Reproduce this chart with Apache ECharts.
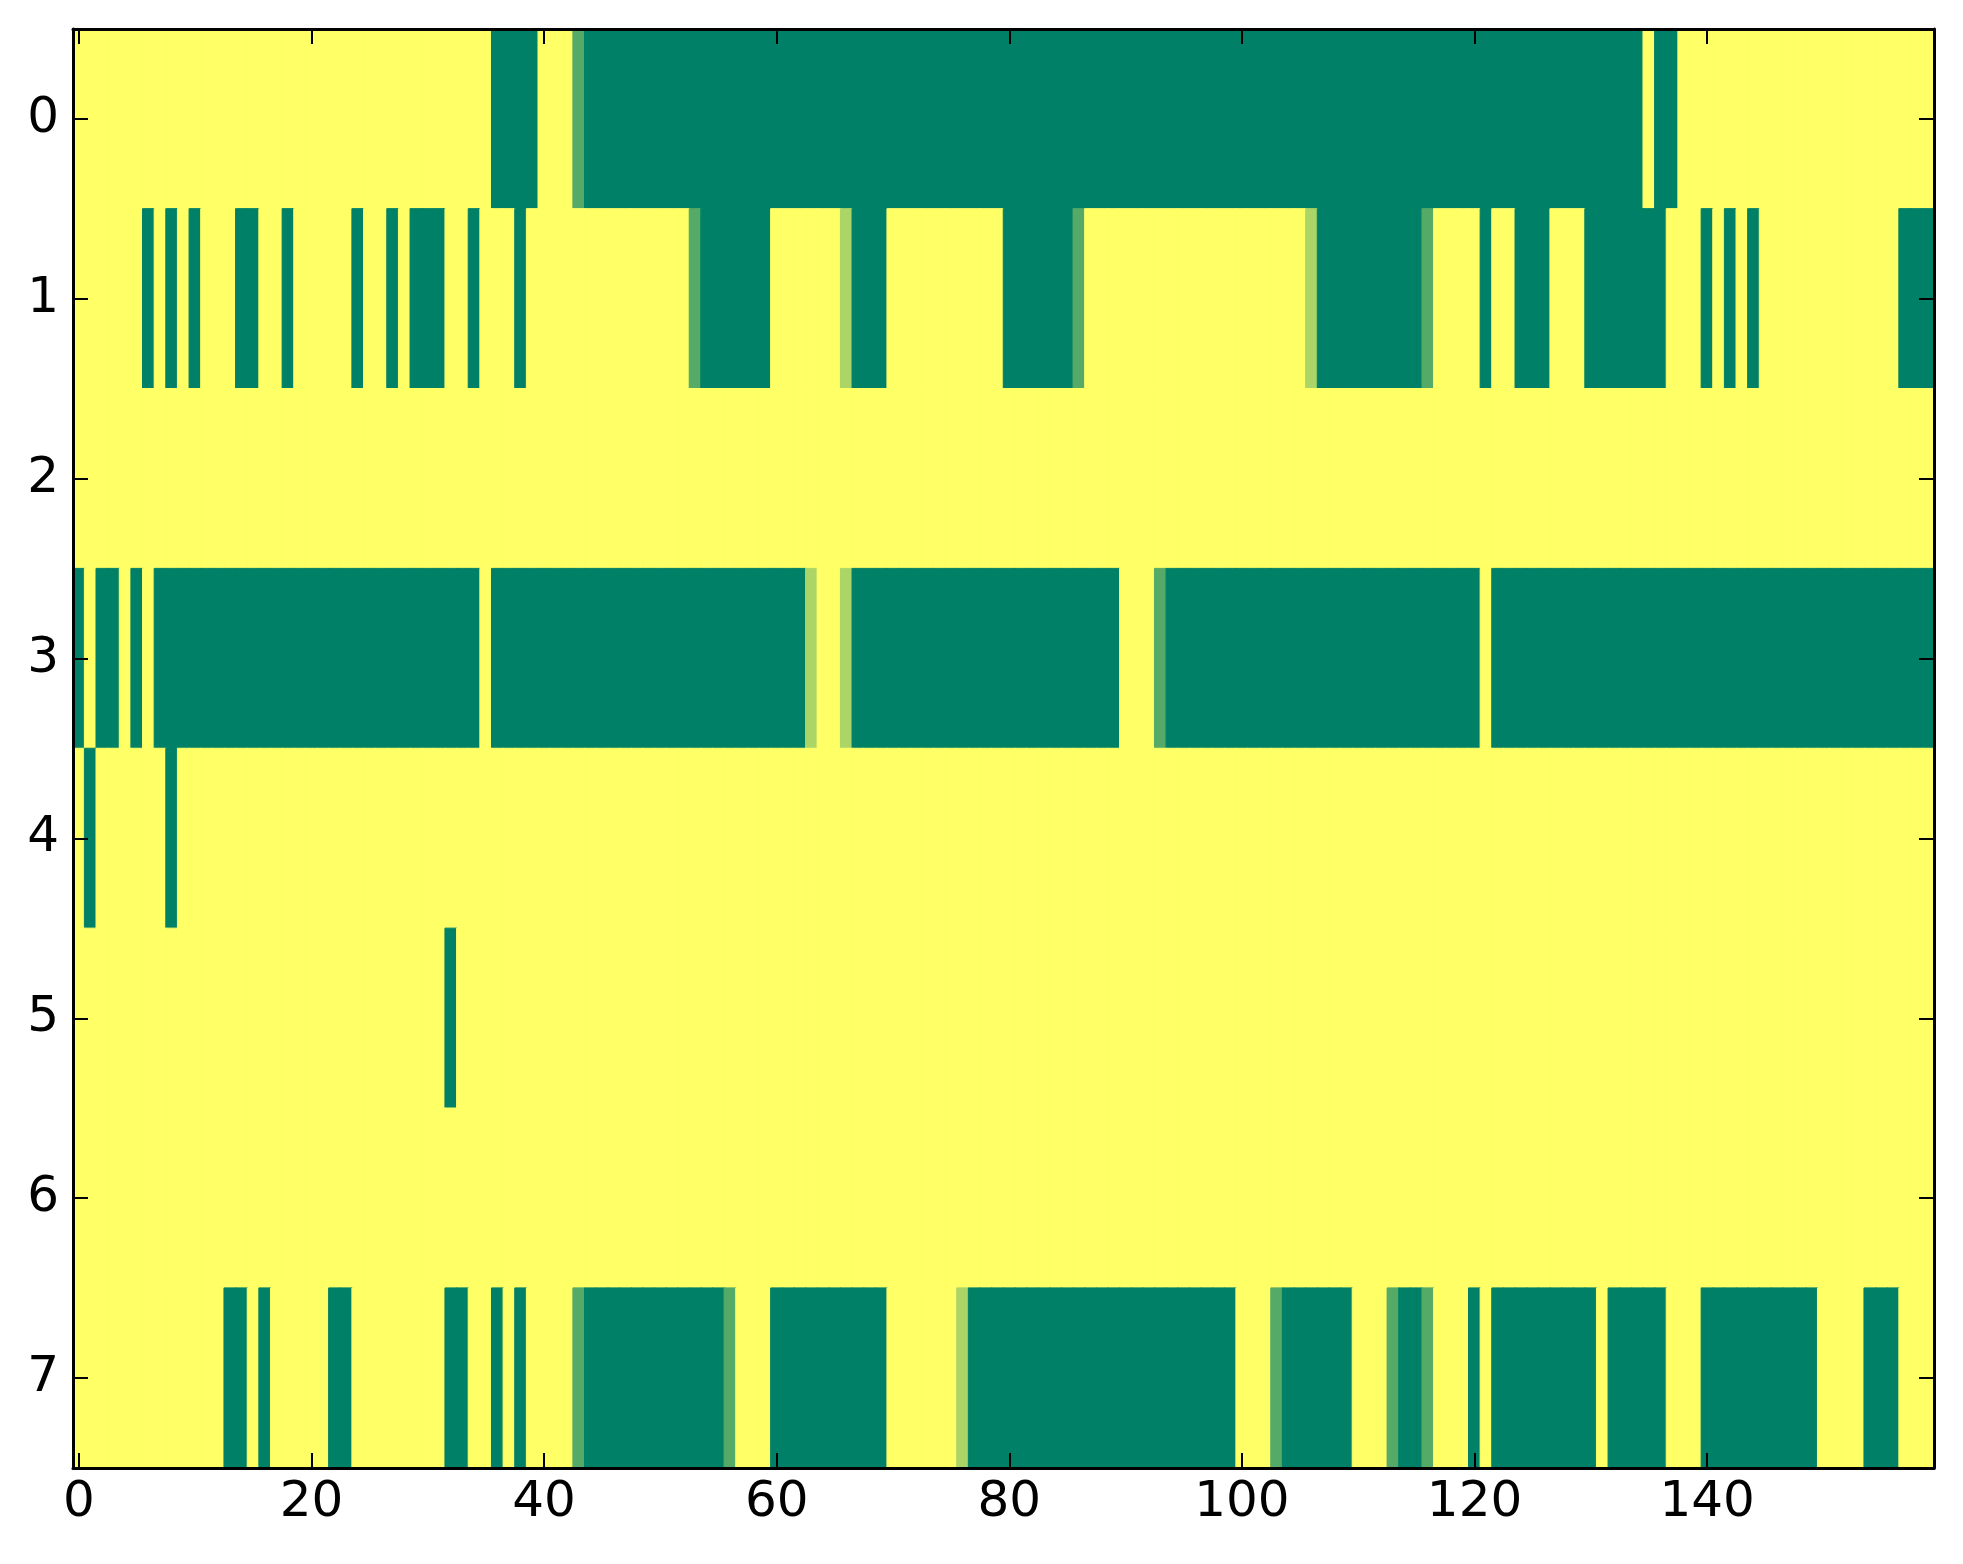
<!DOCTYPE html>
<html>
<head>
<meta charset="utf-8">
<script src="https://cdn.jsdelivr.net/npm/echarts@6/dist/echarts.min.js"></script>
<style>
html,body{margin:0;padding:0;background:#fff;}
#chart{width:1963px;height:1564px;}
</style>
</head>
<body>
<div id="chart"></div>
<script>
// Tick labels
const xTickLabels = ['0','20','40','60','80','100','120','140'];
const yTickLabels = ['0','1','2','3','4','5','6','7'];

// Cell values per row (0 = green, 1 = yellow, intermediates blended)
const row0 = [1,1,1,1,1,1,1,1,1,1, 1,1,1,1,1,1,1,1,1,1, 1,1,1,1,1,1,1,1,1,1, 1,1,1,1,1,1,0,0,0,0,
              1,1,1,0.33,0,0,0,0,0,0, 0,0,0,0,0,0,0,0,0,0, 0,0,0,0,0,0,0,0,0,0, 0,0,0,0,0,0,0,0,0,0,
              0,0,0,0,0,0,0,0,0,0, 0,0,0,0,0,0,0,0,0,0, 0,0,0,0,0,0,0,0,0,0, 0,0,0,0,0,0,0,0,0,0,
              0,0,0,0,0,0,0,0,0,0, 0,0,0,0,0,1,0,0,1,1, 1,1,1,1,1,1,1,1,1,1, 1,1,1,1,1,1,1,1,1,1];
const row1 = [1,1,1,1,1,1,0,1,0,1, 0,1,1,1,0,0,1,1,0,1, 1,1,1,1,0,1,1,0,1,0, 0,0,1,1,0,1,1,1,0,1,
              1,1,1,1,1,1,1,1,1,1, 1,1,1,0.33,0,0,0,0,0,0, 1,1,1,1,1,1,0.67,0,0,0, 1,1,1,1,1,1,1,1,1,1,
              0,0,0,0,0,0,0.33,1,1,1, 1,1,1,1,1,1,1,1,1,1, 1,1,1,1,1,1,0.67,0,0,0, 0,0,0,0,0,0,0.33,1,1,1,
              1,0,1,1,0,0,0,1,1,1, 0,0,0,0,0,0,0,1,1,1, 0,1,0,1,0,1,1,1,1,1, 1,1,1,1,1,1,1,0,0,0];
const row2 = [1,1,1,1,1,1,1,1,1,1, 1,1,1,1,1,1,1,1,1,1, 1,1,1,1,1,1,1,1,1,1, 1,1,1,1,1,1,1,1,1,1,
              1,1,1,1,1,1,1,1,1,1, 1,1,1,1,1,1,1,1,1,1, 1,1,1,1,1,1,1,1,1,1, 1,1,1,1,1,1,1,1,1,1,
              1,1,1,1,1,1,1,1,1,1, 1,1,1,1,1,1,1,1,1,1, 1,1,1,1,1,1,1,1,1,1, 1,1,1,1,1,1,1,1,1,1,
              1,1,1,1,1,1,1,1,1,1, 1,1,1,1,1,1,1,1,1,1, 1,1,1,1,1,1,1,1,1,1, 1,1,1,1,1,1,1,1,1,1];
const row3 = [0,1,0,0,1,0,1,0,0,0, 0,0,0,0,0,0,0,0,0,0, 0,0,0,0,0,0,0,0,0,0, 0,0,0,0,0,1,0,0,0,0,
              0,0,0,0,0,0,0,0,0,0, 0,0,0,0,0,0,0,0,0,0, 0,0,0,0.67,1,1,0.67,0,0,0, 0,0,0,0,0,0,0,0,0,0,
              0,0,0,0,0,0,0,0,0,0, 1,1,1,0.33,0,0,0,0,0,0, 0,0,0,0,0,0,0,0,0,0, 0,0,0,0,0,0,0,0,0,0,
              0,1,0,0,0,0,0,0,0,0, 0,0,0,0,0,0,0,0,0,0, 0,0,0,0,0,0,0,0,0,0, 0,0,0,0,0,0,0,0,0,0];
const row4 = [1,0,1,1,1,1,1,1,0,1, 1,1,1,1,1,1,1,1,1,1, 1,1,1,1,1,1,1,1,1,1, 1,1,1,1,1,1,1,1,1,1,
              1,1,1,1,1,1,1,1,1,1, 1,1,1,1,1,1,1,1,1,1, 1,1,1,1,1,1,1,1,1,1, 1,1,1,1,1,1,1,1,1,1,
              1,1,1,1,1,1,1,1,1,1, 1,1,1,1,1,1,1,1,1,1, 1,1,1,1,1,1,1,1,1,1, 1,1,1,1,1,1,1,1,1,1,
              1,1,1,1,1,1,1,1,1,1, 1,1,1,1,1,1,1,1,1,1, 1,1,1,1,1,1,1,1,1,1, 1,1,1,1,1,1,1,1,1,1];
const row5 = [1,1,1,1,1,1,1,1,1,1, 1,1,1,1,1,1,1,1,1,1, 1,1,1,1,1,1,1,1,1,1, 1,1,0,1,1,1,1,1,1,1,
              1,1,1,1,1,1,1,1,1,1, 1,1,1,1,1,1,1,1,1,1, 1,1,1,1,1,1,1,1,1,1, 1,1,1,1,1,1,1,1,1,1,
              1,1,1,1,1,1,1,1,1,1, 1,1,1,1,1,1,1,1,1,1, 1,1,1,1,1,1,1,1,1,1, 1,1,1,1,1,1,1,1,1,1,
              1,1,1,1,1,1,1,1,1,1, 1,1,1,1,1,1,1,1,1,1, 1,1,1,1,1,1,1,1,1,1, 1,1,1,1,1,1,1,1,1,1];
const row6 = [1,1,1,1,1,1,1,1,1,1, 1,1,1,1,1,1,1,1,1,1, 1,1,1,1,1,1,1,1,1,1, 1,1,1,1,1,1,1,1,1,1,
              1,1,1,1,1,1,1,1,1,1, 1,1,1,1,1,1,1,1,1,1, 1,1,1,1,1,1,1,1,1,1, 1,1,1,1,1,1,1,1,1,1,
              1,1,1,1,1,1,1,1,1,1, 1,1,1,1,1,1,1,1,1,1, 1,1,1,1,1,1,1,1,1,1, 1,1,1,1,1,1,1,1,1,1,
              1,1,1,1,1,1,1,1,1,1, 1,1,1,1,1,1,1,1,1,1, 1,1,1,1,1,1,1,1,1,1, 1,1,1,1,1,1,1,1,1,1];
const row7 = [1,1,1,1,1,1,1,1,1,1, 1,1,1,0,0,1,0,1,1,1, 1,1,0,0,1,1,1,1,1,1, 1,1,0,0,1,1,0,1,0,1,
              1,1,1,0.33,0,0,0,0,0,0, 0,0,0,0,0,0,0.33,1,1,1, 0,0,0,0,0,0,0,0,0,0, 1,1,1,1,1,1,0.67,0,0,0,
              0,0,0,0,0,0,0,0,0,0, 0,0,0,0,0,0,0,0,0,0, 1,1,1,0.33,0,0,0,0,0,0, 1,1,1,0.33,0,0,0.33,1,1,1,
              0,1,0,0,0,0,0,0,0,0, 0,1,0,0,0,0,0,1,1,1, 0,0,0,0,0,0,0,0,0,0, 1,1,1,1,0,0,0,1,1,1];

const rows = [row0,row1,row2,row3,row4,row5,row6,row7];
const xCategories = row0.map((_, i) => String(i));
const yCategories = rows.map((_, i) => String(i));

// "summer" colormap end colours
const LOW = [0, 128, 102], HIGH = [255, 255, 102];
function summer(v) {
  const c = LOW.map((l, k) => Math.round(l + (HIGH[k] - l) * v));
  return 'rgb(' + c.join(',') + ')';
}

const cells = [];
rows.forEach((r, ri) => r.forEach((v, ci) => cells.push({
  value: [ci, ri, v],
  itemStyle: {borderColor: summer(v), borderWidth: 1}
})));

const FONT = 'DejaVu Sans';
const axisLine = {show: true, onZero: false, lineStyle: {color: '#000', width: 3}};
const tickStyle = {color: '#000', width: 2};
const xShow = (i, v) => xTickLabels.includes(String(v));
const yShow = (i, v) => yTickLabels.includes(String(v));

const chart = echarts.init(document.getElementById('chart'), null, {renderer: 'canvas'});
chart.setOption({
  animation: false,
  backgroundColor: '#fff',
  grid: {left: 73, top: 29, width: 1861, height: 1439, containLabel: false},
  visualMap: {show: false, type: 'continuous', min: 0, max: 1, dimension: 2,
    inRange: {color: [summer(0), summer(1)]}},
  xAxis: [
    {type: 'category', data: xCategories, position: 'bottom', boundaryGap: true, z: 10,
     axisLine: axisLine,
     axisTick: {show: true, inside: true, length: 15, alignWithLabel: true, interval: xShow, lineStyle: tickStyle},
     axisLabel: {show: true, interval: xShow, color: '#000', fontSize: 50, fontFamily: FONT, margin: 10},
     splitLine: {show: false}},
    {type: 'category', data: xCategories, position: 'top', boundaryGap: true, z: 10,
     axisLine: axisLine,
     axisTick: {show: true, inside: true, length: 15, alignWithLabel: true, interval: xShow, lineStyle: tickStyle},
     axisLabel: {show: false},
     splitLine: {show: false}}
  ],
  yAxis: [
    {type: 'category', data: yCategories, inverse: true, position: 'left', boundaryGap: true, z: 10,
     axisLine: axisLine,
     axisTick: {show: true, inside: true, length: 15, alignWithLabel: true, interval: yShow, lineStyle: tickStyle},
     axisLabel: {show: true, interval: yShow, color: '#000', fontSize: 50, fontFamily: FONT, margin: 14},
     splitLine: {show: false}},
    {type: 'category', data: yCategories, inverse: true, position: 'right', boundaryGap: true, z: 10,
     axisLine: axisLine,
     axisTick: {show: true, inside: true, length: 15, alignWithLabel: true, interval: yShow, lineStyle: tickStyle},
     axisLabel: {show: false},
     splitLine: {show: false}}
  ],
  series: [{
    type: 'heatmap', xAxisIndex: 0, yAxisIndex: 0, data: cells,
    progressive: 0,
    emphasis: {disabled: true}
  }]
});
</script>
</body>
</html>
